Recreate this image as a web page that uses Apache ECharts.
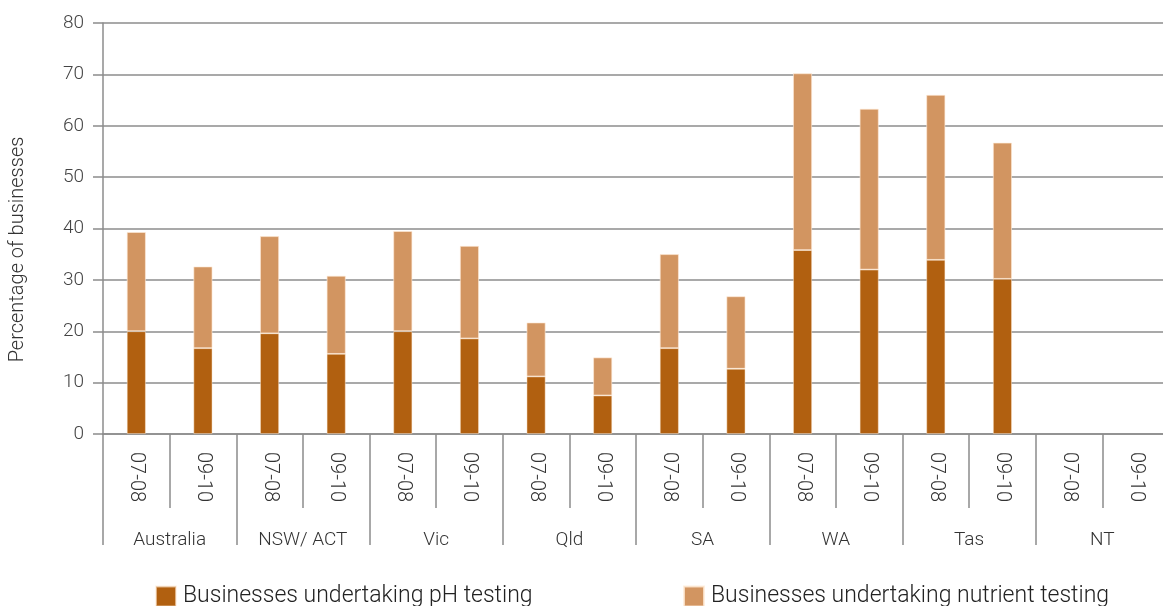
<!DOCTYPE html>
<html>
<head>
<meta charset="utf-8">
<script src="https://cdn.jsdelivr.net/npm/echarts@6/dist/echarts.min.js"></script>
<style>
html,body{margin:0;padding:0;background:#fff;}
#chart{width:1163px;height:606px;}
</style>
</head>
<body>
<div id="chart"></div>
<script>
const groups = ['Australia','NSW/ ACT','Vic','Qld','SA','WA','Tas','NT'];
const periods = ['07-08','09-10'];
const categories = ['07-08','09-10','07-08','09-10','07-08','09-10','07-08','09-10','07-08','09-10','07-08','09-10','07-08','09-10','07-08','09-10'];
const phTesting = [20.0,16.7,19.6,15.6,20.0,18.6,11.2,7.5,16.7,12.7,35.8,32.0,33.9,30.2,null,null];
const nutrientTesting = [19.3,15.9,18.9,15.2,19.5,18.0,10.5,7.4,18.3,14.1,34.4,31.3,32.1,26.5,null,null];
const yTicks = {min:0,max:80,interval:10};
const seriesNames = ['Businesses undertaking pH testing','Businesses undertaking nutrient testing'];

const FONT = 'Roboto';
const legendText = {fontFamily:FONT,fontWeight:300,fontSize:23,color:'#222',lineHeight:20,padding:[0,0,0,2]};
const chart = echarts.init(document.getElementById('chart'));
chart.setOption({
  animation:false,
  textStyle:{fontFamily:FONT,fontWeight:300},
  grid:{left:103,right:-6,top:23,bottom:172,containLabel:false,outerBoundsMode:'none'},
  legend:[
    {top:585,left:155,itemWidth:20,itemHeight:20,icon:'rect',padding:0,textStyle:legendText,data:[seriesNames[0]]},
    {top:585,left:683,itemWidth:20,itemHeight:20,icon:'rect',padding:0,textStyle:legendText,data:[seriesNames[1]]}
  ],
  xAxis:[
    {
      type:'category',data:categories,position:'bottom',
      axisLine:{show:true,lineStyle:{color:'#8c8c8c',width:1.5}},
      axisTick:{show:true,interval:0,length:74,lineStyle:{color:'#8c8c8c',width:1.5}},
      axisLabel:{interval:0,rotate:-90,margin:18,fontSize:20,color:'#333',fontFamily:FONT,fontWeight:300}
    },
    {
      type:'category',data:groups,position:'bottom',
      axisLine:{show:false},
      axisTick:{show:true,interval:0,length:111,lineStyle:{color:'#8c8c8c',width:1.5}},
      axisLabel:{interval:0,margin:97,fontSize:19,color:'#333',fontFamily:FONT,fontWeight:300}
    }
  ],
  yAxis:{
    type:'value',min:yTicks.min,max:yTicks.max,interval:yTicks.interval,
    name:'Percentage of businesses',nameLocation:'middle',nameGap:75,nameRotate:90,
    nameTextStyle:{fontSize:20,color:'#333',fontFamily:FONT,fontWeight:300,padding:[0,42,0,0]},
    axisLine:{show:true,lineStyle:{color:'#8c8c8c',width:1.5}},
    axisTick:{show:true,length:10,lineStyle:{color:'#8c8c8c',width:1.5}},
    axisLabel:{fontSize:19,color:'#444',margin:19,fontFamily:FONT,fontWeight:300},
    splitLine:{show:true,lineStyle:{color:'#8c8c8c',width:1.5}}
  },
  series:[
    {
      name:seriesNames[0],type:'bar',stack:'t',data:phTesting,
      barWidth:19,itemStyle:{color:'#B16010',borderColor:'rgba(255,235,215,0.6)',borderWidth:0.8}
    },
    {
      name:seriesNames[1],type:'bar',stack:'t',data:nutrientTesting,
      barWidth:19,itemStyle:{color:'#D29561',borderColor:'rgba(255,235,215,0.8)',borderWidth:0.8}
    }
  ]
});
</script>
</body>
</html>
